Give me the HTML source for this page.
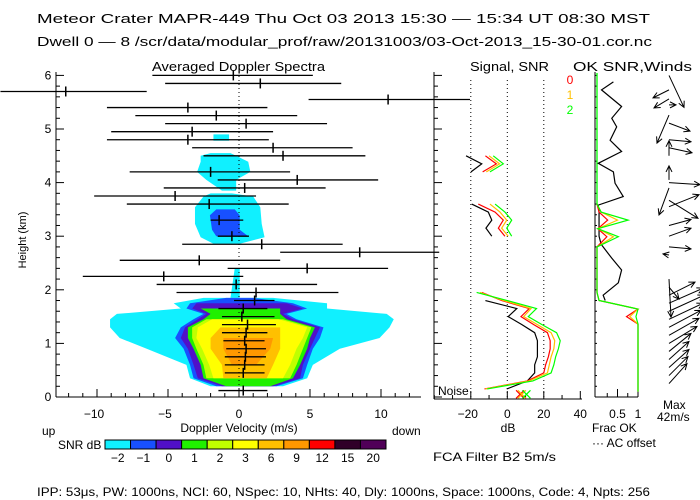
<!DOCTYPE html>
<html><head><meta charset="utf-8"><style>
html,body{margin:0;padding:0;background:#fff;}
svg{display:block;font-family:"Liberation Sans",sans-serif;}
</style></head><body>
<svg id="chart" width="700" height="500" viewBox="0 0 700 500" xmlns="http://www.w3.org/2000/svg">
<rect x="0" y="0" width="700" height="500" fill="#fff"/>
<text x="37" y="23" font-size="13" textLength="613" lengthAdjust="spacingAndGlyphs">Meteor Crater   MAPR-449   Thu Oct 03 2013 15:30  —  15:34 UT 08:30 MST</text>
<text x="37" y="46" font-size="13" textLength="615" lengthAdjust="spacingAndGlyphs">Dwell   0  —   8    /scr/data/modular_prof/raw/20131003/03-Oct-2013_15-30-01.cor.nc</text>
<text x="152" y="71" font-size="13" textLength="173" lengthAdjust="spacingAndGlyphs">Averaged Doppler Spectra</text>
<text x="470" y="71" font-size="13" textLength="79" lengthAdjust="spacingAndGlyphs">Signal,  SNR</text>
<text x="573" y="71" font-size="13" textLength="119" lengthAdjust="spacingAndGlyphs">OK  SNR,Winds</text>
<text x="0" y="0" font-size="11" transform="translate(26,240) rotate(-90)" text-anchor="middle">Height (km)</text>
<g id="spectra"></g>
<g id="axes"></g>
<g id="signal"></g>
<g id="okp"></g>
<g id="winds"></g>
<text x="239" y="432" font-size="12" text-anchor="middle">Doppler Velocity (m/s)</text>
<text x="42" y="435" font-size="12">up</text>
<text x="392" y="435" font-size="12">down</text>
<text x="508" y="432" font-size="12" text-anchor="middle">dB</text>
<text x="592" y="432" font-size="12">Frac OK</text>
<text x="592" y="447" font-size="12">··· AC offset</text>
<text x="663" y="409" font-size="12">Max</text>
<text x="657" y="421" font-size="12">42m/s</text>
<text x="438" y="395" font-size="12">Noise</text>
<text x="58" y="449" font-size="12">SNR dB</text>
<g id="cbar"></g>
<text x="433" y="461" font-size="12" textLength="123" lengthAdjust="spacingAndGlyphs">FCA Filter B2   5m/s</text>
<text x="37" y="496" font-size="12" textLength="613" lengthAdjust="spacingAndGlyphs">IPP:  53μs,  PW: 1000ns,  NCI:  60,  NSpec: 10, NHts: 40,  Dly: 1000ns,  Space: 1000ns,  Code: 4,  Npts: 256</text>
</svg>
<script>
// ---- data ----
const cbLabels = ['-2','-1','0','1','2','3','6','9','12','15','20'];
const cbColors = ['#10f0ff','#1850ff','#5010c8','#20f000','#c0ff00','#ffff00','#ffc000','#ff9800','#ff0000','#300028','#500058'];
const velTicks = [-10,-5,0,5,10];
const hTicks = [0,1,2,3,4,5,6];
const dbTicks = [-20,0,20,40];
const fracTicks = [0.5,1];

const H = [0.2,0.35,0.6,0.9,1.1,1.3,1.45,1.55,1.65,1.75,1.85];
const cyanLo = [-2.0,-3.45,-3.7,-6.5,-8.4,-9.08,-9.08,-8.6,-4.1,-4.6,-2.5];
const cyanHi = [3.1,4.8,5.2,7.1,9.9,10.6,10.9,10.4,6.2,6.2,2.4];
const blueLo = [-1.6,-3.2,-3.45,-3.9,-4.5,-4.1,-3.2,-2.5,-3.7,-3.45,-0.9];
const blueHi = [2.65,4.5,4.8,5.2,5.7,5.95,4.05,3.35,4.8,3.8,1.0];
const purpLo = [-1.2,-2.9,-3.2,-3.6,-4.1,-3.8,-2.9,-2.3,-3.3,-3.0,null];
const purpHi = [2.4,4.3,4.5,5.0,5.35,5.7,3.8,3.1,4.5,3.35,null];
const greenLo = [-0.9,-2.5,-2.7,-3.2,-3.6,-3.6,-2.5,-2.0,-2.7,null,null];
const greenHi = [2.2,3.8,4.3,4.8,5.0,5.35,3.35,2.9,2.9,null,null];
const ygLo = [null,-2.3,-2.5,-3.0,-3.3,-3.3,-2.3,null,-2.5,null,null];
const ygHi = [null,3.6,4.05,4.5,4.8,5.1,3.1,null,2.4,null,null];
const yelLo = [null,-1.8,-2.1,-2.6,-3.0,-2.9,-1.9,null,null,null,null];
const yelHi = [null,3.1,3.6,4.05,4.5,4.8,2.8,null,null,null,null];
const goldLo = [null,-1.1,-1.2,-2.0,-2.0,-1.3,null,null,null,null,null];
const goldHi = [null,1.95,2.4,2.9,2.9,2.9,null,null,null,null,null];
const orLo = [null,null,-0.5,-1.1,-1.1,null,null,null,null,null,null];
const orHi = [null,null,1.2,2.2,2.4,null,null,null,null,null,null];

const blobAH = [2.86,2.98,3.23,3.54,3.74,3.8];
const blobALo = [-1.8,-2.7,-3.1,-3.1,-2.5,-2.0];
const blobAHi = [0.05,1.8,1.6,1.5,1.0,-0.5];
const blobABH = [3.0,3.12,3.39,3.5];
const blobABLo = [-1.6,-1.9,-2.05,-1.6];
const blobABHi = [0.65,0.05,0.05,-0.3];
const blobBH = [3.85,4.05,4.2,4.39,4.5,4.55];
const blobBLo = [-1.2,-2.3,-2.95,-2.7,-2.7,-2.0];
const blobBHi = [-0.2,-0.2,0.8,0.65,-0.2,-0.6];
const blobCH = [4.78,4.9];
const blobCLo = [-1.8,-1.8];
const blobCHi = [-0.7,-0.7];
const stemH = [1.85,2.4];
const stemLo = [-0.6,-0.3];
const stemHi = [0.05,0.05];

const rowH = [0.12,0.45,0.6,0.75,0.9,1.05,1.2,1.35,1.5,1.65,1.8,1.95,2.1,2.25,2.4,2.55,2.7,2.85,3.0,3.3,3.6,3.75,3.9,4.05,4.2,4.5,4.65,4.8,4.95,5.1,5.25,5.4,5.55,5.7,5.85,6.0];
const rowC = [0.3,0.3,0.4,0.45,0.5,0.4,0.5,0.6,0.2,0.3,1.1,1.2,-0.2,-5.3,4.8,-2.8,8.5,1.6,-0.5,-1.4,-2.1,-4.5,0.4,4.1,-2.0,3.1,2.4,-3.6,-3.3,0.5,-1.6,-3.6,10.5,-12.2,1.5,-0.4];
const rowLo = [-1.45,-1.0,-1.0,-1.0,-0.9,-1.1,-1.2,-1.2,-1.2,-1.45,-0.35,-4.4,-5.8,-11.0,-0.8,-8.4,2.9,-4.0,-1.5,-2.0,-7.9,-10.2,-5.3,-1.5,-7.7,-2.5,-3.3,-9.3,-9.0,-5.2,-7.3,-9.3,4.9,-16.8,-5.2,-6.1];
const rowHi = [2.0,1.8,1.8,1.9,1.9,1.8,2.0,2.6,2.5,2.0,2.5,7.0,5.5,0.3,10.5,2.9,14.1,7.3,0.7,0.3,3.5,1.2,6.1,9.8,3.6,8.9,8.0,2.1,2.4,6.2,4.1,2.0,16.3,-6.5,7.2,5.2];

const sigH = [0.15,0.3,0.45,0.6,0.75,0.9,1.05,1.2,1.35,1.5,1.65,1.8,1.95];
const sigGreen = [-11,14,24,25.5,26.5,28,29,27,19,11.5,16,0,-16.8];
const sigOrange = [-12,12,22,23,24,25.5,26,24,16.5,9,13,-2,-15];
const sigRed = [-12.5,11,20,21,22.5,23.5,23.5,22,14.5,7.5,12,-3,-14];
const sigBlack = [-0.3,11,15,15,16.5,16.5,16.5,15,8,0.5,5.2,-12,null];
const midH = [3.0,3.15,3.3,3.45,3.6];
const midGreen = [2.4,-0.3,2.4,-1.3,-6.7];
const midOrange = [0.5,-3.1,-0.3,-4,-9.5];
const midRed = [-1.3,-4.9,-2.2,-6.7,-15.9];
const midBlack = [-8.5,-11.7,-8.5,-10.4,-19.5];
const upH = [4.2,4.35,4.5];
const upGreen = [-9.5,-2.2,-7.7];
const upOrange = [-11.5,-4.2,-10];
const upRed = [-13.5,-6,-12];
const upBlack = [-19.9,-14,-22.6];
const noiseVals = [7,8,10.5];

const okH = [5.88,5.73,5.42,5.2,5.04,4.79,4.58,4.36,4.2,3.99,3.74,3.58,3.45,3.3,3.15,3.0,2.85,2.59,2.37,2.13,1.9,1.8];
const okBlack = [0.4,0.11,0.6,0.36,0.48,0.32,0.6,0.03,0.4,0.44,0.64,0.03,0.05,0.05,0.05,0.05,0.1,0.36,0.6,0.52,0.15,0.2];
const fracH = [3.6,3.45,3.3,3.14,2.99,2.8,1.95,1.8,1.64,1.5,1.36,0.1];
const fracGreen = [0,0.1,0.76,0.02,0.52,0,0,0.05,1.0,0.95,1.0,1.0];
const fracOrange = [0,0.1,0.5,0.02,0.4,0,0,0.05,1.0,0.8,1.0,1.0];
const fracRed = [0,0.05,0.26,0.02,0.24,0,0,0.05,1.0,0.72,1.0,1.0];

const windH = [6.0,5.73,5.56,5.45,5.26,5.11,4.8,4.65,4.5,4.05,4.0,3.9,3.55,3.67,3.2,3.0,2.8,2.65,2.2,2.05,1.9,1.75,1.6,1.45,1.3,1.15,1.0,0.85,0.7,0.55,0.4,0.25];
const windU = [15,-16,-15,7,-12,21,22,23,0,0,31,-10,30,29,22,22,22,-6,2,10,26,34,35,34,32,30,28,22,20,20,19,18];
const windV = [-32,-8,-9,0,-28,-8,-2,-5,15,14,-2,-27,12,-18,6,8,-2,1,-38,-12,13,15,16,16,17,17,17,18,18,18,19,20];

// ---- scales ----
const xv = v => 239 + v*14.2;
const yh = h => 397 - h*53.6;
const xdb = d => 507.3 + d*1.825;
const xf = f => 597 + f*41;
const NS = 'http://www.w3.org/2000/svg';
function mk(tag, parent, attrs){const e=document.createElementNS(NS,tag);for(const k in attrs)e.setAttribute(k,attrs[k]);parent.appendChild(e);return e;}

const sp = document.getElementById('spectra');
function level(Hs, lo, hi, color, name){
  let run=[];
  const flush=()=>{ if(run.length>=2){
      const pts=run.map(i=>xv(lo[i])+','+yh(Hs[i])).concat(run.slice().reverse().map(i=>xv(hi[i])+','+yh(Hs[i])));
      const p=mk('polygon',sp,{points:pts.join(' '),fill:color});
      
      
    } run=[]; };
  for(let i=0;i<Hs.length;i++){ if(lo[i]===null) flush(); else run.push(i);} flush();
}
level(H,cyanLo,cyanHi,cbColors[0],'contour-cyan');
level(stemH,stemLo,stemHi,cbColors[0],'contour-cyan-stem');
level(blobAH,blobALo,blobAHi,cbColors[0],'contour-blob-a');
level(blobBH,blobBLo,blobBHi,cbColors[0],'contour-blob-b');
level(blobCH,blobCLo,blobCHi,cbColors[0],'contour-blob-c');
level(blobABH,blobABLo,blobABHi,cbColors[1],'contour-blob-a-blue');
level(H,blueLo,blueHi,cbColors[1],'contour-blue');
level(H,purpLo,purpHi,cbColors[2],'contour-purple');
level(H,greenLo,greenHi,cbColors[3],'contour-green');
level(H,ygLo,ygHi,cbColors[4],'contour-yellowgreen');
level(H,yelLo,yelHi,cbColors[5],'contour-yellow');
level(H,goldLo,goldHi,cbColors[6],'contour-gold');
level(H,orLo,orHi,cbColors[7],'contour-orange');

// zero line
const zl = mk('line',sp,{x1:xv(0),x2:xv(0),y1:72,y2:397,stroke:'#000','stroke-dasharray':'1,3','stroke-width':1});



// error bars
for(let i=0;i<rowH.length;i++){
  const y=yh(rowH[i]);
  const x1=Math.max(0,xv(rowLo[i])), x2=Math.min(470,xv(rowHi[i]));
  const l=mk('line',sp,{x1:x1,x2:x2,y1:y,y2:y,stroke:'#000','stroke-width':1.3});
  
  
  const t=mk('line',sp,{x1:xv(rowC[i]),x2:xv(rowC[i]),y1:y-5,y2:y+5,stroke:'#000','stroke-width':1.5});
  
  
}

// axes
const ax=document.getElementById('axes');
function ln(x1,y1,x2,y2,name,w){const l=mk('line',ax,{x1:x1,y1:y1,x2:x2,y2:y2,stroke:'#000','stroke-width':w||1});return l;}
function tx(x,y,s,name,anchor){const t=mk('text',ax,{x:x,y:y,'font-size':12,'text-anchor':anchor||'middle'});t.textContent=s;return t;}
ln(56,72,56,397,'spectra-y-axis');
ln(56,397,421,397,'spectra-x-axis');
for(let v=-12;v<=12;v++){const major=velTicks.includes(v);ln(xv(v),397,xv(v),major?389:393,'velocity-tick');}
velTicks.forEach(v=>tx(xv(v)-(v<0?3:0),418,String(v).replace('-','−'),'velocity-tick-label'));
for(let h=0;h<=6.01;h+=0.2){const major=Math.abs(h-Math.round(h))<0.01;
  ln(56,yh(h),major?64:60,yh(h),'height-tick');
  ln(434,yh(h),major?442:438,yh(h),'signal-height-tick');
  ln(595,yh(h),597,yh(h),'ok-height-tick');}
hTicks.forEach(h=>tx(48,yh(h)+4,String(h),'height-tick-label'));
// signal axes
ln(434,72,434,399,'signal-y-axis');
ln(434,399,582,399,'signal-x-axis');
for(let d=-40;d<=40;d+=10){ln(xdb(d),399,xdb(d),dbTicks.includes(d)?391:395,'db-tick');}
dbTicks.forEach(d=>tx(xdb(d)-(d<0?3:0),418,String(d).replace('-','−'),'db-tick-label'));
dbTicks.slice(0,3).forEach(d=>{const l=ln(xdb(d),80,xdb(d),397,'db-gridline');l.setAttribute('stroke-dasharray','1,3');});
// ok axes
ln(595,72,595,397,'ok-y-axis');
ln(595,397,638,397,'ok-x-axis');
[0.25,0.5,0.75,1].forEach(f=>ln(xf(f),397,xf(f),fracTicks.includes(f)?389:393,'frac-tick'));
tx(xf(0.5),418,'0.5','frac-tick-label');tx(xf(1),418,'1','frac-tick-label');

// signal panel lines
const sg=document.getElementById('signal');
function poly(parent,Hs,vals,xs,color,name,w){
  let run=[];const flush=()=>{if(run.length>=2){const p=mk('polyline',parent,{points:run.join(' '),fill:'none',stroke:color,'stroke-width':w||1.2});}run=[];};
  for(let i=0;i<Hs.length;i++){if(vals[i]===null)flush();else run.push(xs(vals[i])+','+yh(Hs[i]));}flush();
}
[[sigBlack,'#000'],[sigRed,'#ff0000'],[sigOrange,'#ffc000'],[sigGreen,'#00ff00']].forEach(([a,c])=>poly(sg,sigH,a,xdb,c,'signal-low-line'));
[[midBlack,'#000'],[midRed,'#ff0000'],[midOrange,'#ffc000'],[midGreen,'#00ff00']].forEach(([a,c])=>poly(sg,midH,a,xdb,c,'signal-mid-line'));
[[upBlack,'#000'],[upRed,'#ff0000'],[upOrange,'#ffc000'],[upGreen,'#00ff00']].forEach(([a,c])=>poly(sg,upH,a,xdb,c,'signal-upper-line'));
const ncol=['#ff0000','#ffc000','#00ff00'];
noiseVals.forEach((n,i)=>{const x=xdb(n),y=yh(0.05);
  const g=mk('path',sg,{d:`M${x-4},${y-4}L${x+4},${y+4}M${x-4},${y+4}L${x+4},${y-4}`,stroke:ncol[i],'stroke-width':1.2,fill:'none'});
  
  });
['0','1','2'].forEach((s,i)=>{const t=mk('text',sg,{x:570,y:84+i*15,'font-size':12,fill:ncol[i],'text-anchor':'middle'});t.textContent=s;
  
  });

// ok panel
const ok=document.getElementById('okp');
const gtop=mk('line',ok,{x1:xf(0),x2:xf(0),y1:73,y2:yh(3.6),stroke:'#00ff00','stroke-width':1.3});


poly(ok,okH,okBlack,xf,'#000','ok-snr-line');
poly(ok,fracH,fracRed,xf,'#ff0000','frac-ok-0');
poly(ok,fracH,fracOrange,xf,'#ffc000','frac-ok-1');
poly(ok,fracH,fracGreen,xf,'#00ff00','frac-ok-2');

// winds
const wd=document.getElementById('winds');
for(let i=0;i<windH.length;i++){
  const x0=669,y0=yh(windH[i]),x1=x0+windU[i],y1=y0-windV[i];
  const L=Math.hypot(windU[i],windV[i])||1,ux=(x1-x0)/L,uy=(y1-y0)/L,hs=6;
  const d=`M${x0},${y0}L${x1},${y1}M${x1-hs*ux-hs*0.5*uy},${y1-hs*uy+hs*0.5*ux}L${x1},${y1}L${x1-hs*ux+hs*0.5*uy},${y1-hs*uy-hs*0.5*ux}`;
  const p=mk('path',wd,{d:d,stroke:'#000','stroke-width':1,fill:'none'});
  
  
}

// colorbar
const cb=document.getElementById('cbar');
const cw=(386-105)/cbColors.length;
cbColors.forEach((c,i)=>{const r=mk('rect',cb,{x:105+i*cw,y:440,width:cw,height:9,fill:c,stroke:'#000','stroke-width':1});
  
  
  const t=mk('text',cb,{x:105+i*cw+cw/2,y:462,'font-size':12,'text-anchor':'middle'});t.textContent=cbLabels[i].replace('-','−');
  
  });
</script>
</body></html>
